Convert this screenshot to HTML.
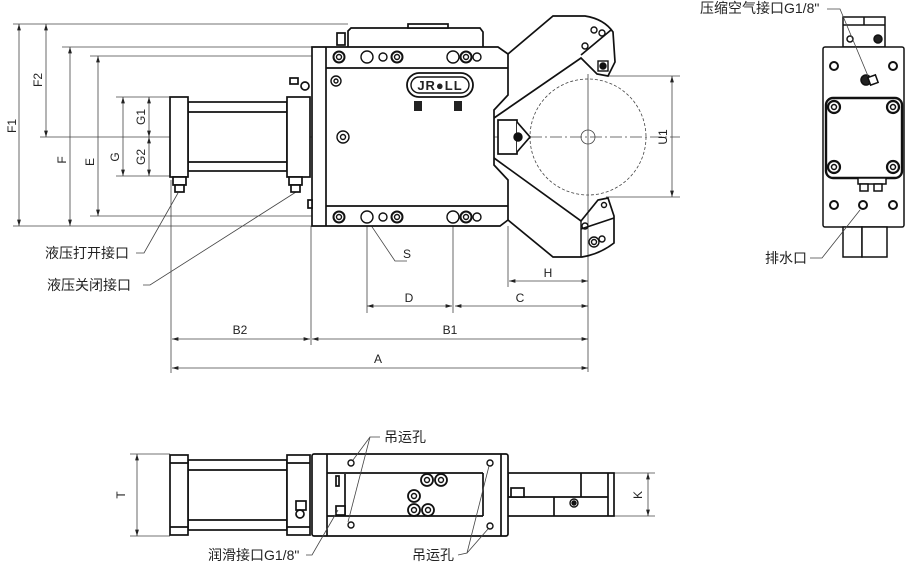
<!DOCTYPE html>
<html><head><meta charset="utf-8"><style>
html,body{margin:0;padding:0;background:#fff;}
svg{display:block;}
text{font-family:"Liberation Sans","Noto Sans CJK SC",sans-serif;fill:#222;}
.cn{font-size:14px;}
.d{font-size:12px;}
</style></head><body>
<svg width="907" height="563" viewBox="0 0 907 563" xmlns="http://www.w3.org/2000/svg">
<defs>
<marker id="a" viewBox="0 0 10 10" refX="10" refY="5" markerWidth="8" markerHeight="8" orient="auto-start-reverse"><path d="M0,2 L10,5 L0,8 z" fill="#222"/></marker>
</defs>
<g stroke="#444" stroke-width="0.8" fill="none">
<line x1="13" y1="24" x2="348" y2="24"/>
<line x1="62" y1="47" x2="312" y2="47"/>
<line x1="90" y1="56" x2="312" y2="56"/>
<line x1="116" y1="97" x2="170" y2="97"/>
<line x1="116" y1="176" x2="170" y2="176"/>
<line x1="40" y1="137" x2="170" y2="137"/>
<line x1="90" y1="216" x2="312" y2="216"/>
<line x1="13" y1="226" x2="312" y2="226"/>
<line x1="19" y1="24" x2="19" y2="226" marker-start="url(#a)" marker-end="url(#a)"/>
<line x1="46" y1="24" x2="46" y2="137" marker-start="url(#a)" marker-end="url(#a)"/>
<line x1="70" y1="47" x2="70" y2="226" marker-start="url(#a)" marker-end="url(#a)"/>
<line x1="98" y1="56" x2="98" y2="216" marker-start="url(#a)" marker-end="url(#a)"/>
<line x1="123" y1="97" x2="123" y2="176" marker-start="url(#a)" marker-end="url(#a)"/>
<line x1="149" y1="97" x2="149" y2="137" marker-start="url(#a)" marker-end="url(#a)"/>
<line x1="149" y1="137" x2="149" y2="176" marker-start="url(#a)" marker-end="url(#a)"/>
<line x1="170" y1="137" x2="680" y2="137" stroke-dasharray="12,3,2,3"/>
<line x1="588" y1="74" x2="588" y2="372"/>
<line x1="606" y1="76" x2="680" y2="76"/>
<line x1="606" y1="197" x2="680" y2="197"/>
<line x1="672" y1="76" x2="672" y2="197" marker-start="url(#a)" marker-end="url(#a)"/>
<line x1="171" y1="180" x2="171" y2="373"/>
<line x1="311" y1="226" x2="311" y2="345"/>
<line x1="367" y1="210" x2="367" y2="313"/>
<line x1="453" y1="210" x2="453" y2="313"/>
<line x1="508" y1="226" x2="508" y2="287"/>
<line x1="172" y1="339" x2="310" y2="339" marker-start="url(#a)" marker-end="url(#a)"/>
<line x1="312" y1="339" x2="588" y2="339" marker-start="url(#a)" marker-end="url(#a)"/>
<line x1="172" y1="368" x2="588" y2="368" marker-start="url(#a)" marker-end="url(#a)"/>
<line x1="367" y1="306" x2="452" y2="306" marker-start="url(#a)" marker-end="url(#a)"/>
<line x1="455" y1="306" x2="588" y2="306" marker-start="url(#a)" marker-end="url(#a)"/>
<line x1="509" y1="281" x2="588" y2="281" marker-start="url(#a)" marker-end="url(#a)"/>
<polyline points="354,200 395,261 407,261"/>
<polyline points="136,253 144,253 178,193"/>
<polyline points="143,285 150,285 296,192"/>
<circle cx="588" cy="137" r="58" stroke-dasharray="3,2"/>
<circle cx="588" cy="137" r="7"/>
</g>

<g stroke="#111" stroke-width="1.7" fill="#fff">
<rect x="188" y="102" width="99" height="69"/>
<line x1="188" y1="112" x2="287" y2="112"/>
<line x1="188" y1="162" x2="287" y2="162"/>
<rect x="170" y="97" width="18" height="80"/>
<rect x="287" y="97" width="23" height="80"/>
<rect x="173" y="177" width="13" height="8"/><rect x="175" y="185" width="9" height="7"/>
<rect x="289" y="177" width="13" height="8"/><rect x="291" y="185" width="9" height="7"/>
<rect x="290" y="78" width="8" height="6"/><circle cx="305" cy="86" r="4"/>
<path d="M348,47 L348,31 L351,28 L480,28 L483,32 L483,47"/>
<rect x="408" y="24" width="40" height="4"/>
<rect x="337" y="33" width="8" height="12"/>
<path d="M312,47 L498,47 L508,54 L508,95 L494,110 L494,165 L508,180 L508,220 L500,226 L312,226 Z"/>
<line x1="326" y1="47" x2="326" y2="226"/>
<line x1="326" y1="68" x2="508" y2="68"/>
<line x1="326" y1="206" x2="508" y2="206"/>
<rect x="308" y="200" width="4" height="8"/>
<path d="M508,54 L553,16 L585,16 Q604,19 613,32 L615,62 L608,76 L597,74 L581,58 L494,118" fill="none"/>
<line x1="581" y1="55" x2="611" y2="30"/>
<path d="M508,220 L553,257 L582,257 Q600,254 614,243 L614,216 L608,198 L598,200 L581,221 L494,158" fill="none"/>
<line x1="581" y1="229" x2="614" y2="218"/>
<rect x="498" y="120" width="19" height="34"/>
<path d="M517,122 L530,137 L517,152"/>
</g>
<g stroke="#111" stroke-width="1.4" fill="none">
<line x1="581" y1="221" x2="581" y2="257"/>
<circle cx="594" cy="30" r="3"/><circle cx="602" cy="33" r="3"/><circle cx="585" cy="46" r="3"/>
<rect x="598" y="61" width="10" height="10"/><circle cx="603" cy="66" r="3" fill="#111"/>
<circle cx="604" cy="205" r="2.5"/><circle cx="585" cy="226" r="3"/>
<circle cx="594" cy="242" r="5"/><circle cx="594" cy="242" r="2.5"/><circle cx="602" cy="239" r="3"/>
<circle cx="518" cy="137" r="4" fill="#111"/>
<g id="holes">
<circle cx="339" cy="57" r="5.5" stroke-width="2"/><circle cx="339" cy="57" r="2.5"/>
<circle cx="367" cy="57" r="6"/>
<circle cx="383" cy="57" r="4"/>
<circle cx="397" cy="57" r="5.5" stroke-width="2"/><circle cx="397" cy="57" r="2.5"/>
<circle cx="453" cy="57" r="6"/>
<circle cx="466" cy="57" r="5.5" stroke-width="2"/><circle cx="466" cy="57" r="2.5"/>
<circle cx="477" cy="57" r="4"/>
</g>
<use href="#holes" y="160"/>
<circle cx="336" cy="81" r="5"/><circle cx="336" cy="81" r="2"/>
<circle cx="343" cy="137" r="6"/><circle cx="343" cy="137" r="2.5"/>
<rect x="407" y="73" width="66" height="24" rx="12" stroke-width="1.8"/>
<rect x="411" y="77" width="58" height="16" rx="8"/>
</g>
<text x="440" y="90" font-size="13" font-weight="bold" text-anchor="middle" style="letter-spacing:1px">JR●LL</text>
<rect x="414" y="101" width="8" height="10" fill="#222"/>
<rect x="454" y="101" width="8" height="10" fill="#222"/>

<g stroke="#111" stroke-width="1.5" fill="#fff">
<rect x="843" y="17" width="42" height="30"/>
<line x1="843" y1="25" x2="885" y2="25"/><line x1="864" y1="17" x2="864" y2="25"/>
<rect x="823" y="47" width="81" height="180" rx="2"/>
<rect x="826" y="98" width="76" height="80" rx="7" stroke-width="2.4"/>
<rect x="843" y="227" width="19" height="30"/><rect x="862" y="227" width="25" height="30"/>
<rect x="858" y="178" width="28" height="6"/><rect x="860" y="184" width="8" height="7"/><rect x="874" y="184" width="8" height="7"/>
<circle cx="850" cy="39" r="3"/><circle cx="878" cy="39" r="4" fill="#222"/>
<circle cx="834" cy="66" r="4" stroke-width="2"/><circle cx="893" cy="66" r="4" stroke-width="2"/>
<circle cx="834" cy="205" r="4" stroke-width="2"/><circle cx="893" cy="205" r="4" stroke-width="2"/>
<circle cx="834" cy="107" r="6" stroke-width="2.2"/><circle cx="893" cy="107" r="6" stroke-width="2.2"/>
<circle cx="834" cy="167" r="6" stroke-width="2.2"/><circle cx="893" cy="167" r="6" stroke-width="2.2"/>
<circle cx="834" cy="107" r="2.5"/><circle cx="893" cy="107" r="2.5"/>
<circle cx="834" cy="167" r="2.5"/><circle cx="893" cy="167" r="2.5"/>
<circle cx="866" cy="80" r="5" fill="#222"/><rect x="869" y="76" width="8" height="8" transform="rotate(-20 873 80)"/>
<circle cx="863" cy="205" r="4" stroke-width="2"/>
</g>
<g stroke="#444" stroke-width="0.8" fill="none">
<polyline points="827,9 840,9 868,76"/>
<polyline points="810,258 822,258 860,210"/>
</g>

<g stroke="#444" stroke-width="0.8" fill="none">
<line x1="130" y1="454" x2="170" y2="454"/><line x1="130" y1="536" x2="170" y2="536"/>
<line x1="137" y1="454" x2="137" y2="536" marker-start="url(#a)" marker-end="url(#a)"/>
<line x1="614" y1="473" x2="655" y2="473"/><line x1="614" y1="516" x2="655" y2="516"/>
<line x1="648" y1="473" x2="648" y2="516" marker-start="url(#a)" marker-end="url(#a)"/>
</g>
<g stroke="#111" stroke-width="1.7" fill="#fff">
<rect x="188" y="460" width="99" height="70"/>
<line x1="188" y1="470" x2="287" y2="470"/><line x1="188" y1="520" x2="287" y2="520"/>
<rect x="170" y="455" width="18" height="80"/>
<line x1="170" y1="463" x2="188" y2="463"/><line x1="170" y1="527" x2="188" y2="527"/>
<rect x="287" y="455" width="23" height="80"/>
<line x1="287" y1="463" x2="310" y2="463"/><line x1="287" y1="527" x2="310" y2="527"/>
<rect x="483" y="473" width="131" height="43"/>
<line x1="483" y1="497" x2="608" y2="497"/>
<line x1="508" y1="473" x2="508" y2="497"/>
<line x1="581" y1="473" x2="581" y2="497"/>
<line x1="608" y1="473" x2="608" y2="516"/>
<line x1="554" y1="497" x2="554" y2="516"/>
<rect x="511" y="488" width="13" height="9"/>
<rect x="312" y="454" width="196" height="82" rx="2"/>
<line x1="327" y1="454" x2="327" y2="536"/>
<line x1="501" y1="454" x2="501" y2="536"/>
<line x1="327" y1="473" x2="483" y2="473"/>
<line x1="327" y1="516" x2="483" y2="516"/>
<line x1="345" y1="474" x2="345" y2="515"/>
<line x1="483" y1="473" x2="483" y2="516"/>
<rect x="336" y="476" width="3" height="10"/>
<rect x="336" y="506" width="9" height="9"/>
<rect x="296" y="501" width="10" height="9"/><circle cx="300" cy="514" r="4"/>
</g>
<g stroke="#111" stroke-width="1.4" fill="none">
<circle cx="351" cy="463" r="3"/><circle cx="351" cy="525" r="3"/>
<circle cx="490" cy="463" r="3"/><circle cx="490" cy="526" r="3"/>
<circle cx="427" cy="480" r="6" stroke-width="1.8"/><circle cx="427" cy="480" r="2.5"/>
<circle cx="441" cy="480" r="6" stroke-width="1.8"/><circle cx="441" cy="480" r="2.5"/>
<circle cx="414" cy="496" r="6" stroke-width="1.8"/><circle cx="414" cy="496" r="2.5"/>
<circle cx="414" cy="510" r="6" stroke-width="1.8"/><circle cx="414" cy="510" r="2.5"/>
<circle cx="428" cy="510" r="6" stroke-width="1.8"/><circle cx="428" cy="510" r="2.5"/>
<circle cx="574" cy="503" r="4"/><circle cx="574" cy="503" r="2" fill="#111"/>
</g>
<g stroke="#444" stroke-width="0.8" fill="none">
<polyline points="380,437 370,437 353,460"/>
<line x1="370" y1="437" x2="348" y2="522"/>
<polyline points="306,555 312,555 338,510"/>
<polyline points="458,555 467,553 489,466"/>
<line x1="467" y1="553" x2="488" y2="529"/>
</g>

<g class="d">
<text transform="translate(16,126) rotate(-90)" text-anchor="middle">F1</text>
<text transform="translate(42,80) rotate(-90)" text-anchor="middle">F2</text>
<text transform="translate(66,160) rotate(-90)" text-anchor="middle">F</text>
<text transform="translate(94,162) rotate(-90)" text-anchor="middle">E</text>
<text transform="translate(119,157) rotate(-90)" text-anchor="middle">G</text>
<text transform="translate(145,117) rotate(-90)" text-anchor="middle">G1</text>
<text transform="translate(145,157) rotate(-90)" text-anchor="middle">G2</text>
<text transform="translate(667,137) rotate(-90)" text-anchor="middle">U1</text>
<text transform="translate(125,495) rotate(-90)" text-anchor="middle">T</text>
<text transform="translate(642,495) rotate(-90)" text-anchor="middle">K</text>
<text x="403" y="258">S</text>
<text x="548" y="277" text-anchor="middle">H</text>
<text x="409" y="302" text-anchor="middle">D</text>
<text x="520" y="302" text-anchor="middle">C</text>
<text x="240" y="334" text-anchor="middle">B2</text>
<text x="450" y="334" text-anchor="middle">B1</text>
<text x="378" y="363" text-anchor="middle">A</text>
</g>
<g class="cn">
<text x="45" y="258">液压打开接口</text>
<text x="47" y="290">液压关闭接口</text>
<text x="700" y="13">压缩空气接口G1/8"</text>
<text x="765" y="263">排水口</text>
<text x="384" y="442">吊运孔</text>
<text x="208" y="560">润滑接口G1/8"</text>
<text x="412" y="560">吊运孔</text>
</g>
</svg>
</body></html>
